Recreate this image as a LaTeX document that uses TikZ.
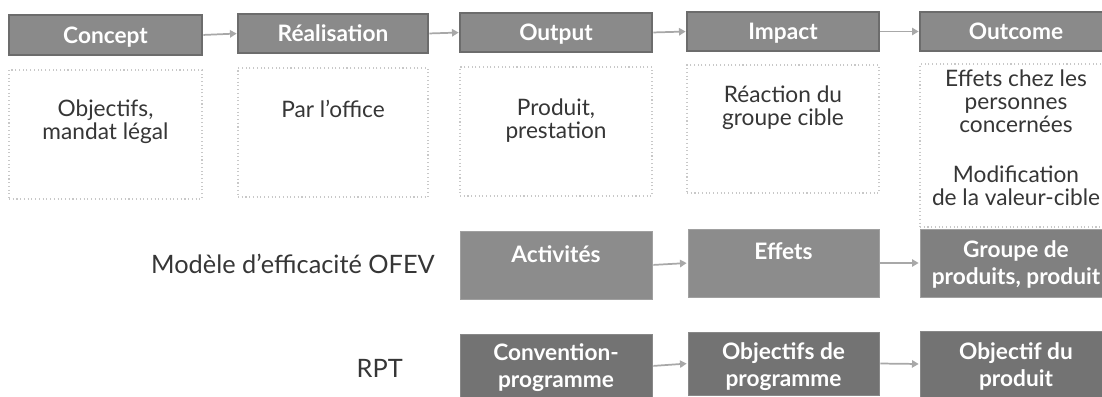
\documentclass[tikz,border=0pt]{standalone}
\usepackage{fontspec}
\setmainfont{Lato}
\usetikzlibrary{arrows.meta}
\definecolor{hdrfill}{HTML}{8A8A8A}
\definecolor{hdrdraw}{HTML}{6C6C6C}
\definecolor{rowAfill}{HTML}{8C8C8C}
\definecolor{rowAdraw}{HTML}{A0A0A0}
\definecolor{rowAdark}{HTML}{808080}
\definecolor{rowBfill}{HTML}{737373}
\definecolor{rowBdraw}{HTML}{888888}
\definecolor{dotgray}{HTML}{C8C8C8}
\definecolor{arrowgray}{HTML}{A8A8A8}
\definecolor{txt}{HTML}{363636}
\begin{document}
\begin{tikzpicture}[x=0.75pt,y=-0.75pt,
  box/.style={anchor=north west, inner sep=0pt, outer sep=0pt},
  hdr/.style={box, fill=hdrfill, draw=hdrdraw, line width=1.5pt, text=white, font=\fontsize{17}{18}\bfseries, text height=12.3pt, text depth=0pt},
  dotbox/.style={box, draw=dotgray, dotted, line width=0.8pt},
  bodytext/.style={anchor=north, inner sep=0pt, align=center, text=txt, font=\fontsize{17}{17}\selectfont},
  rowA/.style={box, fill=rowAfill, draw=rowAdraw, line width=0.75pt},
  rowB/.style={box, fill=rowBfill, draw=rowBdraw, line width=0.75pt},
  boxtext/.style={anchor=north, inner sep=0pt, align=center, text=white, font=\fontsize{17}{20.25}\bfseries},
  sidelabel/.style={anchor=base east, inner sep=0pt, text=txt, font=\fontsize{19}{22}\selectfont},
  flow/.style={draw=arrowgray, line width=1.3pt, -{Triangle[length=5pt,width=5.5pt]}, shorten <=1pt, shorten >=1pt}
]
\fill[white] (0,0) rectangle (1102,396);
\useasboundingbox (0,0) rectangle (1102,396);

% header row
\node[hdr, minimum width=144.75pt, minimum height=30pt] (h1) at (9,15) {Concept};
\node[hdr, minimum width=142.5pt, minimum height=29.25pt] (h2) at (238,14) {Réalisation};
\node[hdr, minimum width=144pt, minimum height=29.25pt] (h3) at (460,13) {Output};
\node[hdr, minimum width=144pt, minimum height=29.25pt] (h4) at (687,12) {Impact};
\node[hdr, minimum width=144pt, minimum height=29.25pt] (h5) at (920,12) {Outcome};

\draw[flow] (h1.east) -- (h2.west);
\draw[flow] (h2.east) -- (h3.west);
\draw[flow] (h3.east) -- (h4.west);
\draw[flow] (h4.east) -- (h5.west);

% dotted boxes
\node[dotbox, minimum width=144.75pt, minimum height=96.75pt] (d1) at (9,70) {};
\node[dotbox, minimum width=142.5pt, minimum height=96.75pt] (d2) at (238,68) {};
\node[dotbox, minimum width=144pt, minimum height=96.75pt] (d3) at (460,67) {};
\node[dotbox, minimum width=144pt, minimum height=96pt] (d4) at (687,65) {};
\node[dotbox, minimum width=144pt, minimum height=122.25pt] (d5) at (920,64) {};

\node[bodytext] (t1) at (105.5,100) {Objectifs,\\mandat légal};
\node[bodytext] (t2) at (333,100) {Par l'office};
\node[bodytext] (t3) at (556,99) {Produit,\\prestation};
\node[bodytext] (t4) at (783,86) {Réaction du\\groupe cible};
\node[bodytext] (t5) at (1016,70) {Effets chez les\\personnes\\concernées};
\node[bodytext] (t5b) at (1016,166) {Modification\\de la valeur-cible};

% side labels
\node[sidelabel] (lab1) at (435,273) {Modèle d'efficacité OFEV};
\node[sidelabel] (lab2) at (403,377) {RPT};

% row A
\node[rowA, minimum width=144pt, minimum height=51pt] (a1) at (460,231) {};
\node[rowA, minimum width=143.25pt, minimum height=51pt] (a2) at (688,229) {};
\node[rowA, fill=rowAdark, minimum width=144pt, minimum height=51pt] (a3) at (920,229) {};
\node[boxtext] (ta1) at (556,245) {Activités};
\node[boxtext] (ta2) at (783.5,242) {Effets};
\node[boxtext] (ta3) at (1016,240) {Groupe de\\produits, produit};
\draw[flow] (a1.east) -- (a2.west);
\draw[flow] (a2.east) -- (a3.west);

% row B
\node[rowB, minimum width=144pt, minimum height=48pt] (b1) at (460,334) {};
\node[rowB, minimum width=143.25pt, minimum height=47.25pt] (b2) at (688,332) {};
\node[rowB, minimum width=144pt, minimum height=49.5pt] (b3) at (920,331) {};
\node[boxtext] (tb1) at (556,343) {Convention-\\programme};
\node[boxtext] (tb2) at (783.5,342) {Objectifs de\\programme};
\node[boxtext] (tb3) at (1016,342) {Objectif du\\produit};
\draw[flow] (b1.east) -- (b2.west);
\draw[flow] (b2.east) -- (b3.west);
\end{tikzpicture}
\end{document}
